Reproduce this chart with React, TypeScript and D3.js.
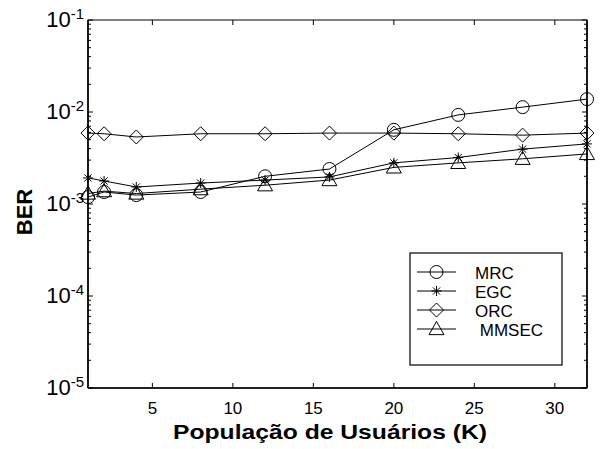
import React from 'react';
import * as d3 from 'd3';

// users (K)
const users = [1, 2, 4, 8, 12, 16, 20, 24, 28, 32];

const mrc = [1.19e-3, 1.35e-3, 1.25e-3, 1.35e-3, 2.0e-3, 2.4e-3, 6.4e-3, 9.3e-3, 1.13e-2, 1.38e-2];
const egc = [1.92e-3, 1.78e-3, 1.53e-3, 1.69e-3, 1.82e-3, 1.97e-3, 2.8e-3, 3.2e-3, 3.95e-3, 4.5e-3];
const orc = [5.9e-3, 5.8e-3, 5.35e-3, 5.8e-3, 5.8e-3, 5.9e-3, 5.9e-3, 5.8e-3, 5.6e-3, 5.9e-3];
const mmsec = [1.3e-3, 1.38e-3, 1.3e-3, 1.45e-3, 1.6e-3, 1.82e-3, 2.5e-3, 2.8e-3, 3.1e-3, 3.5e-3];

const seriesNames = ['MRC', 'EGC', 'ORC', ' MMSEC'];
const markerKinds = ['circle', 'star', 'diamond', 'triangle'];

const xTicks = [5, 10, 15, 20, 25, 30];
const yExponents = [-1, -2, -3, -4, -5];

const W = 600;
const H = 449;
const left = 88;
const right = 587;
const top = 20;
const bottom = 388;

const FONT = 'Arial, "Liberation Sans", Helvetica, sans-serif';

function markerPath(kind: string, cx: number, cy: number): string {
  if (kind === 'circle') {
    const r = 6.5;
    return `M${cx - r},${cy}a${r},${r} 0 1,0 ${2 * r},0a${r},${r} 0 1,0 ${-2 * r},0`;
  }
  if (kind === 'diamond') {
    const r = 7;
    return `M${cx},${cy - r}L${cx + r},${cy}L${cx},${cy + r}L${cx - r},${cy}Z`;
  }
  if (kind === 'triangle') {
    const r = 7.5;
    return `M${cx},${cy - r}L${cx + r},${cy + r * 0.75}L${cx - r},${cy + r * 0.75}Z`;
  }
  // star: plus + cross
  const r = 5;
  const d = r * 0.72;
  return `M${cx - r},${cy}L${cx + r},${cy}M${cx},${cy - r}L${cx},${cy + r}` +
    `M${cx - d},${cy - d}L${cx + d},${cy + d}M${cx - d},${cy + d}L${cx + d},${cy - d}`;
}

export default function App() {
  const x = d3.scaleLinear().domain([1, 32]).range([left, right]);
  const y = d3.scaleLog().domain([1e-5, 1e-1]).range([bottom, top]);

  const allSeries = [mrc, egc, orc, mmsec];
  const line = d3.line<number>()
    .x((_, i) => x(users[i]))
    .y(d => y(d));

  // minor log ticks
  const minor: number[] = [];
  for (let e = -5; e < -1; e++) {
    for (let m = 2; m <= 9; m++) minor.push(m * Math.pow(10, e));
  }

  const legX = 410;
  const legY = 253;
  const legW = 152;
  const legH = 112;

  return (
    <svg width={W} height={H} style={{ position: 'absolute', left: 0, top: 0, background: '#fff' }}>
      <rect x={0} y={0} width={W} height={H} fill="#fff" />

      {/* ticks */}
      <g stroke="#000" strokeWidth={1}>
        {xTicks.map(t => (
          <g key={'xt' + t}>
            <line x1={x(t)} x2={x(t)} y1={bottom} y2={bottom - 5} />
            <line x1={x(t)} x2={x(t)} y1={top} y2={top + 5} />
          </g>
        ))}
        {yExponents.map(e => (
          <g key={'yt' + e}>
            <line x1={left} x2={left + 5} y1={y(Math.pow(10, e))} y2={y(Math.pow(10, e))} />
            <line x1={right} x2={right - 5} y1={y(Math.pow(10, e))} y2={y(Math.pow(10, e))} />
          </g>
        ))}
        {minor.map((v, i) => (
          <g key={'mt' + i}>
            <line x1={left} x2={left + 3} y1={y(v)} y2={y(v)} />
            <line x1={right} x2={right - 3} y1={y(v)} y2={y(v)} />
          </g>
        ))}
      </g>

      {/* frame */}
      <rect x={left} y={top} width={right - left} height={bottom - top} fill="none" stroke="#000" strokeWidth={1} />
      <line x1={left} x2={left} y1={top} y2={bottom} stroke="#000" strokeWidth={1.6} />
      <line x1={left} x2={right} y1={bottom} y2={bottom} stroke="#000" strokeWidth={1.6} />
      <line x1={right} x2={right} y1={top} y2={bottom} stroke="#000" strokeWidth={1.6} />

      {/* series */}
      {allSeries.map((s, k) => (
        <g key={'s' + k}>
          <path d={line(s) || ''} fill="none" stroke="#000" strokeWidth={1} />
          {s.map((v, i) => (
            <path key={i} d={markerPath(markerKinds[k], x(users[i]), y(v))} fill="none" stroke="#000" strokeWidth={1} />
          ))}
        </g>
      ))}

      {/* x tick labels */}
      {xTicks.map(t => (
        <text key={'xl' + t} x={x(t)} y={414} textAnchor="middle" fontFamily={FONT} fontSize={17} fill="#000">{t}</text>
      ))}

      {/* y tick labels */}
      {yExponents.map(e => (
        <text key={'yl' + e} x={84} y={y(Math.pow(10, e)) + 7} textAnchor="end" fontFamily={FONT} fontSize={22} fill="#000">
          10<tspan dy={-8} fontSize={15}>{e}</tspan>
        </text>
      ))}

      {/* axis titles */}
      <text x={330} y={439} textAnchor="middle" fontFamily={FONT} fontSize={21} fontWeight="bold" fill="#000"
        textLength={314} lengthAdjust="spacingAndGlyphs">
        População de Usuários (K)
      </text>
      <text transform={`translate(32,212) rotate(-90)`} textAnchor="middle" fontFamily={FONT} fontSize={22} fontWeight="bold" fill="#000">
        BER
      </text>

      {/* legend */}
      <rect x={legX} y={legY} width={legW} height={legH} fill="#fff" stroke="#000" strokeWidth={1.2} />
      {seriesNames.map((n, k) => {
        const cy = legY + 19 + k * 19;
        return (
          <g key={'lg' + k}>
            <line x1={417} x2={456} y1={cy} y2={cy} stroke="#000" strokeWidth={1} />
            <path d={markerPath(markerKinds[k], 436.5, cy)} fill="none" stroke="#000" strokeWidth={1} />
            <text x={475} y={cy + 6.5} fontFamily={FONT} fontSize={17} fill="#000" style={{ whiteSpace: 'pre' }}>{n}</text>
          </g>
        );
      })}
    </svg>
  );
}
